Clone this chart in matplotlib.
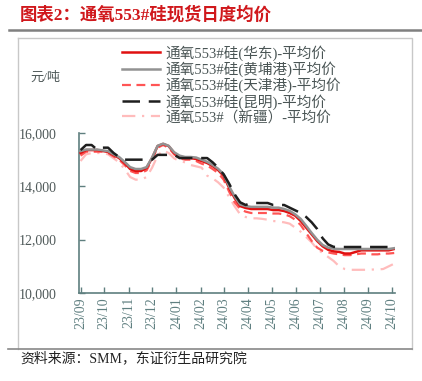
import matplotlib
matplotlib.use("Agg")
import matplotlib.pyplot as plt
from matplotlib.lines import Line2D
import pandas as pd

plt.rcParams['font.family'] = ['Liberation Serif', 'Noto Sans CJK SC', 'DejaVu Sans']

dates = pd.date_range('2023-09-01', periods=58, freq='7D')

huadong = [15250, 15360, 15360, 15360, 15325, 15290, 15175, 15060, 14875, 14650,
           14575, 14575, 14690, 15060, 15510, 15590, 15510, 15250, 15100, 15060,
           15060, 15025, 14950, 14875, 14760, 14610, 14390, 13940, 13560, 13260,
           13190, 13150, 13150, 13150, 13150, 13110, 13110, 13075, 13000, 12900,
           12700, 12450, 12200, 11950, 11750, 11620, 11560, 11540, 11480, 11480,
           11540, 11600, 11600, 11600, 11600, 11600, 11600, 11650]
huangpu = [15320, 15380, 15380, 15380, 15350, 15320, 15200, 15100, 14920, 14720,
           14650, 14650, 14720, 15080, 15520, 15600, 15520, 15280, 15150, 15100,
           15100, 15080, 15000, 14920, 14800, 14660, 14450, 14000, 13620, 13320,
           13260, 13230, 13230, 13230, 13230, 13200, 13200, 13150, 13080, 12950,
           12780, 12520, 12250, 12000, 11800, 11700, 11660, 11650, 11650, 11650,
           11650, 11650, 11650, 11650, 11650, 11650, 11650, 11680]
tianjin = [15150, 15300, 15300, 15300, 15300, 15250, 15120, 15000, 14800, 14580,
           14500, 14500, 14600, 15000, 15450, 15550, 15450, 15200, 15050, 15000,
           15000, 14950, 14850, 14780, 14650, 14500, 14250, 13800, 13400, 13150,
           13050, 13000, 13000, 13000, 13000, 12980, 12980, 12950, 12880, 12750,
           12550, 12250, 11950, 11700, 11580, 11520, 11480, 11450, 11420, 11420,
           11450, 11480, 11480, 11450, 11450, 11480, 11480, 11500]
kunming = [15360, 15550, 15550, 15380, 15450, 15450, 15250, 15100, 15000, 15000,
           15000, 15000, 15000, 15000, 15180, 15180, 15180, 15180, 15060, 15060,
           15060, 15060, 15060, 15060, 14900, 14700, 14450, 14100, 13700, 13400,
           13300, 13375, 13375, 13375, 13375, 13300, 13300, 13300, 13200, 13100,
           13000, 12850, 12650, 12400, 12050, 11820, 11730, 11725, 11725, 11725,
           11725, 11725, 11725, 11725, 11725, 11725, 11725, 11760]
xinjiang = [14950, 15200, 15250, 15250, 15250, 15200, 15050, 14900, 14650, 14350,
            14250, 14250, 14350, 14700, 15150, 15350, 15250, 15050, 14950, 14900,
            14800, 14750, 14700, 14400, 14300, 14150, 13950, 13600, 13250, 12950,
            12850, 12800, 12800, 12780, 12750, 12700, 12680, 12650, 12600, 12450,
            12300, 12100, 11900, 11650, 11500, 11350, 11200, 11000, 10900, 10870,
            10870, 10870, 10870, 10880, 10880, 10900, 11000, 11100]

labels = ['通氧553#硅(华东)-平均价', '通氧553#硅(黄埔港)平均价', '通氧553#硅(天津港)-平均价',
          '通氧553#硅(昆明)-平均价', '通氧553#（新疆）-平均价']
yticks = [10000, 12000, 14000, 16000]
month_ticks = pd.date_range('2023-09-01', '2024-10-01', freq='MS')

fig = plt.figure(figsize=(4.22, 3.81), dpi=100)
ax = fig.add_axes([79/422, 1-293/381, (395-79)/422, (293-133)/381])

axc = '#5f7f7f'
ax.plot(dates, xinjiang, color='#ffbcbc', lw=1.6, ls=(0, (6, 3, 1, 3)), label=labels[4], zorder=2)
ax.plot(dates, tianjin, color='#ff5555', lw=1.6, ls=(0, (4, 2.5)), label=labels[2], zorder=3)
ax.plot(dates, huadong, color='#e01010', lw=1.8, label=labels[0], zorder=4)
ax.plot(dates, huangpu, color='#929292', lw=1.8, label=labels[1], zorder=5)
ax.plot(dates, kunming, color='#1e1e1e', lw=1.8, ls=(0, (7, 3.5)), label=labels[3], zorder=6)

ax.set_ylim(10000, 16000)
ax.set_yticks(yticks)
ax.set_yticklabels([f'{v:,}' for v in yticks], fontsize=10, color='#505a5a')
ax.set_xlim(pd.Timestamp('2023-08-30'), pd.Timestamp('2024-10-05'))
ax.set_xticks(month_ticks)
ax.set_xticklabels([d.strftime('%y/%m') for d in month_ticks], rotation=90, fontsize=10, color='#5f7f80')
ax.tick_params(axis='both', direction='in', length=4, color=axc, width=1)
ax.tick_params(axis='y', pad=16)
ax.tick_params(axis='x', pad=3)
for s in ['top', 'right']:
    ax.spines[s].set_visible(False)
for s in ['left', 'bottom']:
    ax.spines[s].set_color(axc)
    ax.spines[s].set_linewidth(1.2)

handles, labs = ax.get_legend_handles_labels()
hmap = dict(zip(labs, handles))
fig.legend([hmap[l] for l in labels], labels, loc='upper left',
           bbox_to_anchor=(122/422, 1-45/381), frameon=False, fontsize=10.5,
           handlelength=2.6, labelspacing=0.05, handletextpad=0.35, borderaxespad=0,
           borderpad=0, labelcolor='#4a5555')

fig.text(30/422, 1-78/381, '元/吨', fontsize=9.5, color='#505a5a', va='center', ha='left')
fig.text(20/422, 1-15/381, '图表2：通氧553#硅现货日度均价', fontsize=12.5, color='#d0181c',
         fontweight='bold', va='center', ha='left')
fig.text(20/422, 1-358/381, '资料来源：SMM，东证衍生品研究院', fontsize=10, color='#222222',
         va='center', ha='left')

fig.add_artist(Line2D([9/422, 1.0], [1-30/381, 1-30/381], color='#808080', lw=1.8))
fig.add_artist(Line2D([18/422, 412/422, 412/422], [1-38/381, 1-38/381, 1-349/381], color='#c8c8c8', lw=1))
fig.add_artist(Line2D([18/422, 18/422], [1-38/381, 1-349/381], color='#c8c8c8', lw=1))
fig.add_artist(Line2D([8/422, 412/422], [1-349/381, 1-349/381], color='#888888', lw=1.2))

fig.savefig('out.png', dpi=100)
